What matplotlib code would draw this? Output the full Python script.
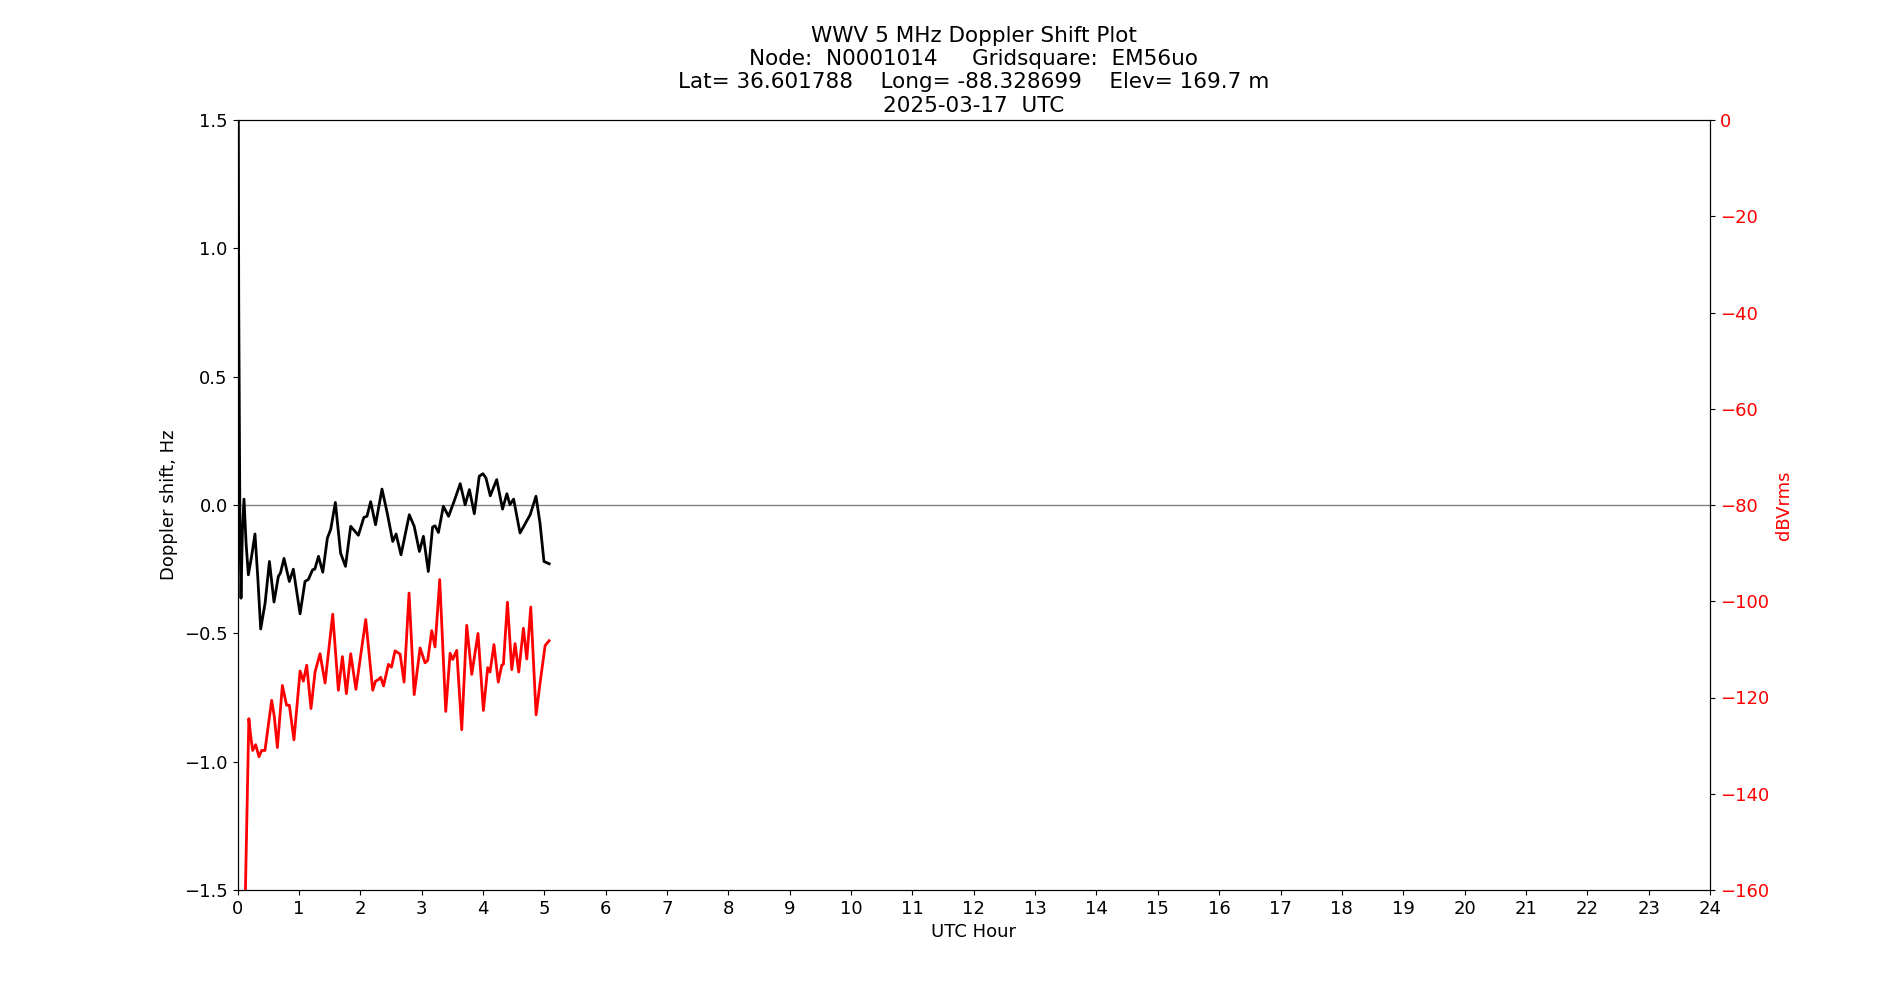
import matplotlib
matplotlib.use("Agg")
import matplotlib.pyplot as plt

plt.rcParams['font.size'] = 13

# Doppler shift (Hz) vs UTC hour
dop_hour = [0.0, 0.02, 0.04, 0.057, 0.08, 0.106, 0.14, 0.177, 0.23, 0.285, 0.33, 0.378,
            0.45, 0.52, 0.595, 0.666, 0.70, 0.758, 0.845, 0.91, 0.96, 1.02, 1.10, 1.155,
            1.225, 1.26, 1.32, 1.39, 1.465, 1.52, 1.595, 1.68, 1.76, 1.845, 1.97, 2.06,
            2.11, 2.17, 2.25, 2.355, 2.44, 2.53, 2.585, 2.665, 2.80, 2.88, 2.965, 3.03,
            3.11, 3.18, 3.22, 3.275, 3.355, 3.44, 3.53, 3.63, 3.71, 3.78, 3.86, 3.94,
            4.0, 4.05, 4.12, 4.225, 4.32, 4.39, 4.44, 4.50, 4.605, 4.77, 4.865, 4.93,
            4.995, 5.08]
dop_hz = [3.0, 0.8, -0.1, -0.363, -0.10, 0.023, -0.15, -0.272, -0.20, -0.113, -0.28, -0.483,
          -0.382, -0.22, -0.378, -0.278, -0.265, -0.208, -0.298, -0.25, -0.33, -0.424, -0.298, -0.29,
          -0.252, -0.25, -0.20, -0.262, -0.129, -0.094, 0.010, -0.187, -0.239, -0.083, -0.118, -0.048,
          -0.044, 0.013, -0.077, 0.062, -0.031, -0.142, -0.113, -0.194, -0.038, -0.083, -0.181, -0.122,
          -0.259, -0.086, -0.081, -0.107, -0.005, -0.044, 0.014, 0.083, 0.001, 0.060, -0.034, 0.112,
          0.122, 0.105, 0.036, 0.099, -0.016, 0.044, 0.001, 0.023, -0.109, -0.038, 0.034, -0.070,
          -0.220, -0.229]

# Signal level (dBVrms) vs UTC hour
amp_hour = [0.09, 0.185, 0.215, 0.247, 0.296, 0.35, 0.394, 0.448, 0.50, 0.557, 0.60, 0.65,
            0.731, 0.80, 0.845, 0.92, 1.02, 1.073, 1.128, 1.198, 1.264, 1.345, 1.427, 1.552,
            1.644, 1.71, 1.775, 1.845, 1.93, 2.09, 2.204, 2.25, 2.296, 2.334, 2.38, 2.46,
            2.51, 2.568, 2.65, 2.715, 2.796, 2.88, 2.976, 3.057, 3.10, 3.166, 3.22, 3.296,
            3.394, 3.465, 3.508, 3.573, 3.655, 3.736, 3.818, 3.92, 4.008, 4.078, 4.116, 4.18,
            4.25, 4.307, 4.334, 4.40, 4.47, 4.524, 4.584, 4.66, 4.715, 4.78, 4.867, 4.93,
            5.014, 5.08]
amp_db = [-185.0, -124.4, -128.0, -131.0, -129.8, -132.3, -131.0, -131.0, -126.0, -120.6, -124.0, -130.4,
          -117.5, -121.6, -121.6, -128.8, -114.5, -116.6, -113.3, -122.3, -114.7, -110.9, -117.0, -102.7,
          -118.5, -111.5, -119.2, -110.9, -118.3, -103.8, -118.5, -116.6, -116.3, -115.8, -117.6, -113.1,
          -113.7, -110.3, -111.0, -116.8, -98.3, -119.4, -109.7, -112.8, -112.3, -106.1, -109.5, -95.5,
          -122.9, -110.8, -112.1, -110.2, -126.7, -105.0, -115.2, -106.7, -122.7, -113.8, -114.7, -109.0,
          -116.8, -113.3, -113.1, -100.2, -114.2, -108.8, -114.7, -105.6, -112.0, -101.2, -123.6, -117.1,
          -109.2, -108.2]

title = ("WWV 5 MHz Doppler Shift Plot\n"
         "Node:  N0001014     Gridsquare:  EM56uo\n"
         "Lat= 36.601788    Long= -88.328699    Elev= 169.7 m\n"
         "2025-03-17  UTC")

fig, ax = plt.subplots(figsize=(19, 10), dpi=100)
ax.axhline(0, color='grey', linewidth=1)
ax.plot(dop_hour, dop_hz, color='black', linewidth=2, solid_joinstyle='round')
ax.set_xlim(0, 24)
ax.set_ylim(-1.5, 1.5)
ax.set_xticks(range(0, 25))
ax.set_xlabel("UTC Hour")
ax.set_ylabel("Doppler shift, Hz")
ax.set_title(title, fontsize=15.5)

ax2 = ax.twinx()
ax2.plot(amp_hour, amp_db, color='red', linewidth=2, solid_joinstyle='round')
ax2.set_ylim(-160, 0)
ax2.set_yticks(range(-160, 1, 20))
ax2.tick_params(axis='y', labelcolor='red')
ax2.set_ylabel("dBVrms", color='red')

fig.savefig("out.png")
